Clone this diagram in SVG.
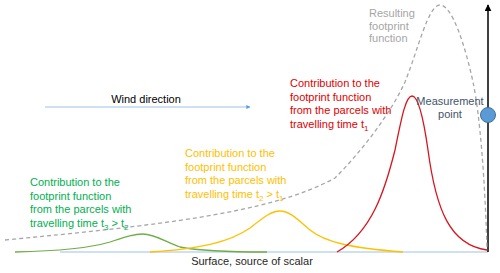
<svg xmlns="http://www.w3.org/2000/svg" width="500" height="273" viewBox="0 0 500 273">
<defs>
<style>
text{font-family:"Liberation Sans",Arial,sans-serif;font-size:11px}
.g{fill:#00B050}.y{fill:#FFC000}.r{fill:#E00000}.gr{fill:#A6A6A6}
.crv{fill:none;stroke-width:1.3}
</style>
<marker id="ah" viewBox="0 0 10 10" refX="9" refY="5" markerWidth="7" markerHeight="7" orient="auto" markerUnits="userSpaceOnUse"><path d="M0,0 L10,5 L0,10 z" fill="#000"/></marker>
<marker id="wh" viewBox="0 0 10 10" refX="9" refY="5" markerWidth="4" markerHeight="4" orient="auto" markerUnits="userSpaceOnUse"><path d="M0,0 L10,5 L0,10 z" fill="#5B9BD5"/></marker>
</defs>
<rect width="500" height="273" fill="#fff"/>
<g id="connectors">
<line x1="60" y1="252" x2="488" y2="252" stroke="#BDD7EE" stroke-width="1.5"/>
<line x1="45" y1="107" x2="250" y2="107" stroke="#9DC3E6" stroke-width="1" marker-end="url(#wh)"/>
<line x1="488" y1="252" x2="488" y2="5" stroke="#000" stroke-width="1.5" marker-end="url(#ah)"/>
<path id="resulting" class="crv" stroke="#A6A6A6" stroke-dasharray="4,3" d="M5,240 C 150,226 270,214 335,178 C 360,153 390,115 405,82 C 418,50 428,5 440,5 C 452,5 465,45 473,82 C 480,115 485,180 487,250"/>
<path class="crv" stroke="#70AD47" d="M15,252 C 60,251 90,248 110,242 C 125,237 133,234 143,234 C 155,234 165,242 180,247 C 200,251 230,252 267,252"/>
<path class="crv" stroke="#FFC000" d="M150,252 C 200,249 230,242 250,228 C 265,216 272,211 280,211 C 290,211 298,220 310,230 C 325,242 350,248 403,252"/>
<path class="crv" stroke="#D9141E" d="M337,252 C 372,232 385,190 395,150 C 402,115 406,96 412,96 C 418,96 423,115 428,150 C 436,210 450,245 487,250"/>
</g>
<g id="measurement-point">
<circle cx="488" cy="115" r="7.5" fill="#5B9BD5" stroke="#41719C" stroke-width="1"/>
<text x="450" y="105" text-anchor="middle" fill="#44546A">Measurement</text>
<text x="450" y="118" text-anchor="middle" fill="#44546A">point</text>
</g>
<g id="resulting-label">
<text class="gr" x="369" y="17">Resulting</text>
<text class="gr" x="369" y="29.5">footprint</text>
<text class="gr" x="369" y="42">function</text>
</g>
<g id="wind-label"><text x="146" y="103" text-anchor="middle" fill="#000">Wind direction</text></g>
<g id="surface-label"><text x="252" y="265" text-anchor="middle" fill="#262626">Surface, source of scalar</text></g>
<g id="red-label">
<text class="r" x="290" y="87">Contribution to the</text>
<text class="r" x="290" y="100.5">footprint function</text>
<text class="r" x="290" y="114">from the parcels with</text>
<text class="r" x="290" y="127.5">travelling time t<tspan font-size="8" dy="3">1</tspan></text>
</g>
<g id="yellow-label">
<text class="y" x="185" y="157">Contribution to the</text>
<text class="y" x="185" y="170.5">footprint function</text>
<text class="y" x="185" y="184">from the parcels with</text>
<text class="y" x="185" y="197.5">travelling time t<tspan font-size="8" dy="3">2</tspan><tspan dy="-3"> &gt; t</tspan><tspan font-size="8" dy="3">1</tspan></text>
</g>
<g id="green-label">
<text class="g" x="30" y="186">Contribution to the</text>
<text class="g" x="30" y="199.5">footprint function</text>
<text class="g" x="30" y="213">from the parcels with</text>
<text class="g" x="30" y="226.5">travelling time t<tspan font-size="8" dy="3">3</tspan><tspan dy="-3"> &gt; t</tspan><tspan font-size="8" dy="3">2</tspan></text>
</g>
</svg>
